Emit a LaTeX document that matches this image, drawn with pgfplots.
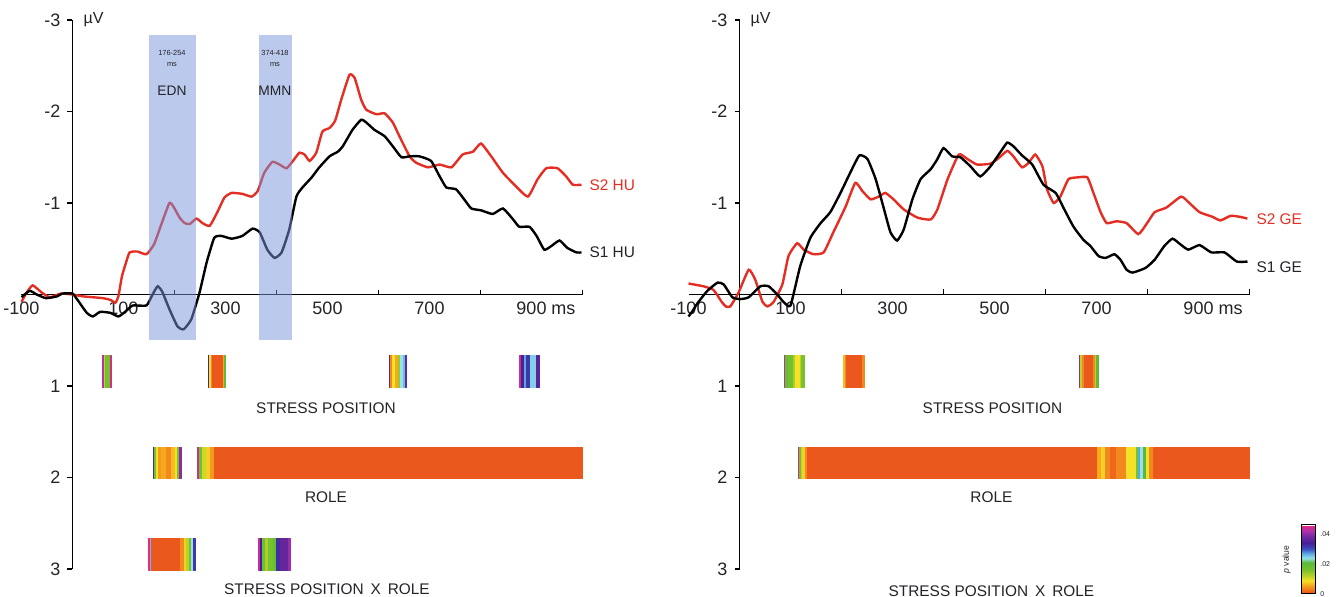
\documentclass[border=0pt]{standalone}
\usepackage{fontspec}
\setmainfont{Liberation Sans}
\usepackage{pgfplots}
\pgfplotsset{compat=1.18}
\usepgfplotslibrary{patchplots}
\usetikzlibrary{calc}
\definecolor{curvered}{RGB}{228,45,35}
\definecolor{bandblue}{RGB}{120,148,218}
\definecolor{txt}{RGB}{35,35,40}
\pgfplotsset{
  colormap={pval}{rgb255(0cm)=(232,72,28) rgb255(3cm)=(240,120,30) rgb255(6cm)=(245,170,30) rgb255(9cm)=(245,225,40) rgb255(12cm)=(190,210,40) rgb255(16cm)=(120,195,45) rgb255(21cm)=(90,185,60) rgb255(24cm)=(150,225,235) rgb255(27cm)=(90,170,225) rgb255(30cm)=(60,80,190) rgb255(34cm)=(70,30,150) rgb255(38cm)=(110,40,160) rgb255(42cm)=(170,50,170) rgb255(46cm)=(230,40,130)},
  erp/.style={
    scale only axis, width=280.5pt, height=274.5pt, anchor=south west,
    axis lines=middle, axis line style={-, line width=0.75pt, black},
    xmin=-100, xmax=1000, ymin=-3, ymax=3, y dir=reverse,
    xtick={200,400,600,800,1000}, xticklabels={,,,,},
    extra x ticks={-100,100,300,500,700,900},
    extra x tick labels={-100,100,300,500,700,900\rlap{ ms}},
    extra x tick style={tick style={draw=none}, xticklabel style={yshift=2.5pt}},
    ytick={-3,-2,-1,1,2,3}, yticklabels={-3,-2,-1,1,2,3},
    tick align=outside, major tick length=2.5pt,
    tick style={line width=0.75pt, black},
    ticklabel style={font=\fontsize{9}{10}\selectfont, text=txt},
    clip=false, colormap name=pval, point meta min=0, point meta max=0.046,
  },
  sig/.style={patch, patch type=rectangle, shader=flat, point meta=explicit},
  erpline/.style={line width=1.2pt, smooth, tension=0.3},
}
\begin{document}
\begin{tikzpicture}
\useasboundingbox (0,0) rectangle (669pt,298.5pt);
% ---------------- LEFT PANEL (HU) ----------------
\begin{axis}[erp, at={(10.75pt,14pt)}]
\addplot[curvered, erpline] coordinates {
(-100,0.08) (-90,-0.02) (-78,-0.1) (-60,-0.02) (-44,0.03) (-23,-0.01) (0,0.0) (20,0.02) (40,0.03) (60,0.04) (75,0.06) (84,0.09) (90,0.02) (97,-0.2) (105,-0.35) (112,-0.46) (127,-0.47) (145,-0.44) (160,-0.55) (175,-0.78) (190,-1.0) (198,-0.96) (210,-0.84) (220,-0.78) (230,-0.77) (243,-0.83) (255,-0.78) (269,-0.75) (284,-0.9) (298,-1.06) (312,-1.11) (333,-1.1) (351,-1.07) (363,-1.13) (376,-1.33) (392,-1.45) (406,-1.42) (420,-1.38) (435,-1.48) (445,-1.55) (455,-1.53) (465,-1.46) (478,-1.55) (490,-1.78) (504,-1.82) (515,-1.9) (527,-2.13) (543,-2.4) (553,-2.37) (566,-2.13) (576,-2.02) (596,-1.97) (612,-1.98) (628,-1.88) (641,-1.73) (661,-1.51) (674,-1.44) (697,-1.39) (720,-1.42) (743,-1.39) (765,-1.53) (785,-1.56) (801,-1.65) (821,-1.51) (844,-1.33) (870,-1.18) (893,-1.07) (912,-1.26) (929,-1.38) (951,-1.38) (968,-1.29) (981,-1.2) (998,-1.2)
};
\addplot[black, erpline] coordinates {
(-100,0.03) (-84,-0.04) (-70,0.0) (-52,0.04) (-30,0.02) (-20,-0.01) (0,-0.01) (10,0.06) (28,0.2) (40,0.24) (54,0.19) (74,0.2) (90,0.24) (103,0.19) (118,0.12) (145,0.12) (157,0.0) (167,-0.09) (176,-0.03) (190,0.16) (206,0.35) (218,0.38) (233,0.27) (249,-0.02) (263,-0.35) (278,-0.62) (292,-0.64) (312,-0.61) (333,-0.64) (353,-0.72) (367,-0.68) (382,-0.49) (396,-0.4) (410,-0.46) (425,-0.71) (439,-1.07) (451,-1.17) (469,-1.28) (484,-1.39) (504,-1.51) (520,-1.56) (530,-1.62) (549,-1.8) (566,-1.91) (576,-1.88) (592,-1.8) (612,-1.73) (628,-1.62) (645,-1.5) (661,-1.51) (680,-1.51) (703,-1.46) (720,-1.29) (733,-1.17) (752,-1.15) (768,-1.04) (782,-0.94) (801,-0.92) (824,-0.88) (844,-0.94) (864,-0.82) (876,-0.74) (896,-0.74) (910,-0.64) (925,-0.49) (939,-0.53) (955,-0.59) (970,-0.51) (988,-0.46) (998,-0.46)
};
% shaded windows
\addplot[draw=none, fill=bandblue, fill opacity=0.5] coordinates {(150.6,-2.84) (242,-2.84) (242,0.5) (150.6,0.5)} -- cycle;
\addplot[draw=none, fill=bandblue, fill opacity=0.5] coordinates {(365.7,-2.84) (430.4,-2.84) (430.4,0.5) (365.7,0.5)} -- cycle;
% significance rows
\addplot[sig] coordinates {
(59,0.67)[0.043] (62,0.67)[0.043] (62,1.01)[0.043] (59,1.01)[0.043]
(62,0.67)[0.012] (65,0.67)[0.012] (65,1.01)[0.012] (62,1.01)[0.012]
(65,0.67)[0.017] (74,0.67)[0.017] (74,1.01)[0.017] (65,1.01)[0.017]
(74,0.67)[0.045] (77,0.67)[0.045] (77,1.01)[0.045] (74,1.01)[0.045]
(266,0.67)[0.035] (269,0.67)[0.035] (269,1.01)[0.035] (266,1.01)[0.035]
(269,0.67)[0.009] (271.5,0.67)[0.009] (271.5,1.01)[0.009] (269,1.01)[0.009]
(271.5,0.67)[0.004] (275,0.67)[0.004] (275,1.01)[0.004] (271.5,1.01)[0.004]
(275,0.67)[0.001] (296,0.67)[0.001] (296,1.01)[0.001] (275,1.01)[0.001]
(296,0.67)[0.006] (298.5,0.67)[0.006] (298.5,1.01)[0.006] (296,1.01)[0.006]
(298.5,0.67)[0.02] (300.5,0.67)[0.02] (300.5,1.01)[0.02] (298.5,1.01)[0.02]
(620.6,0.67)[0.036] (623.9,0.67)[0.036] (623.9,1.01)[0.036] (620.6,1.01)[0.036]
(623.9,0.67)[0.004] (627.8,0.67)[0.004] (627.8,1.01)[0.004] (623.9,1.01)[0.004]
(627.8,0.67)[0.009] (632.4,0.67)[0.009] (632.4,1.01)[0.009] (627.8,1.01)[0.009]
(632.4,0.67)[0.006] (638.9,0.67)[0.006] (638.9,1.01)[0.006] (632.4,1.01)[0.006]
(638.9,0.67)[0.014] (643.5,0.67)[0.014] (643.5,1.01)[0.014] (638.9,1.01)[0.014]
(643.5,0.67)[0.024] (648.7,0.67)[0.024] (648.7,1.01)[0.024] (643.5,1.01)[0.024]
(648.7,0.67)[0.026] (652,0.67)[0.026] (652,1.01)[0.026] (648.7,1.01)[0.026]
(652,0.67)[0.037] (655.2,0.67)[0.037] (655.2,1.01)[0.037] (652,1.01)[0.037]
(875.5,0.67)[0.044] (879.4,0.67)[0.044] (879.4,1.01)[0.044] (875.5,1.01)[0.044]
(879.4,0.67)[0.035] (885.9,0.67)[0.035] (885.9,1.01)[0.035] (879.4,1.01)[0.035]
(885.9,0.67)[0.027] (890.5,0.67)[0.027] (890.5,1.01)[0.027] (885.9,1.01)[0.027]
(890.5,0.67)[0.032] (897,0.67)[0.032] (897,1.01)[0.032] (890.5,1.01)[0.032]
(897,0.67)[0.025] (910.1,0.67)[0.025] (910.1,1.01)[0.025] (897,1.01)[0.025]
(910.1,0.67)[0.036] (914.7,0.67)[0.036] (914.7,1.01)[0.036] (910.1,1.01)[0.036]
};
\addplot[sig] coordinates {
(158.5,1.67)[0.036] (161.1,1.67)[0.036] (161.1,2.01)[0.036] (158.5,2.01)[0.036]
(161.1,1.67)[0.017] (164.4,1.67)[0.017] (164.4,2.01)[0.017] (161.1,2.01)[0.017]
(164.4,1.67)[0.009] (168.3,1.67)[0.009] (168.3,2.01)[0.009] (164.4,2.01)[0.009]
(168.3,1.67)[0.005] (174.8,1.67)[0.005] (174.8,2.01)[0.005] (168.3,2.01)[0.005]
(174.8,1.67)[0.006] (184.6,1.67)[0.006] (184.6,2.01)[0.006] (174.8,2.01)[0.006]
(184.6,1.67)[0.004] (194.4,1.67)[0.004] (194.4,2.01)[0.004] (184.6,2.01)[0.004]
(194.4,1.67)[0.007] (201,1.67)[0.007] (201,2.01)[0.007] (194.4,2.01)[0.007]
(201,1.67)[0.009] (205.6,1.67)[0.009] (205.6,2.01)[0.009] (201,2.01)[0.009]
(205.6,1.67)[0.016] (209.5,1.67)[0.016] (209.5,2.01)[0.016] (205.6,2.01)[0.016]
(209.5,1.67)[0.04] (212.7,1.67)[0.04] (212.7,2.01)[0.04] (209.5,2.01)[0.04]
(245.4,1.67)[0.044] (248.6,1.67)[0.044] (248.6,2.01)[0.044] (245.4,2.01)[0.044]
(248.6,1.67)[0.017] (255.1,1.67)[0.017] (255.1,2.01)[0.017] (248.6,2.01)[0.017]
(255.1,1.67)[0.011] (263,1.67)[0.011] (263,2.01)[0.011] (255.1,2.01)[0.011]
(263,1.67)[0.008] (269.5,1.67)[0.008] (269.5,2.01)[0.008] (263,2.01)[0.008]
(269.5,1.67)[0.005] (277.3,1.67)[0.005] (277.3,2.01)[0.005] (269.5,2.01)[0.005]
(277.3,1.67)[0.001] (1000,1.67)[0.001] (1000,2.01)[0.001] (277.3,2.01)[0.001]
};
\addplot[sig] coordinates {
(148.7,2.67)[0.046] (152,2.67)[0.046] (152,3.01)[0.046] (148.7,3.01)[0.046]
(152,2.67)[0.026] (155.2,2.67)[0.026] (155.2,3.01)[0.026] (152,3.01)[0.026]
(155.2,2.67)[0.001] (210.8,2.67)[0.001] (210.8,3.01)[0.001] (155.2,3.01)[0.001]
(210.8,2.67)[0.004] (218.6,2.67)[0.004] (218.6,3.01)[0.004] (210.8,3.01)[0.004]
(218.6,2.67)[0.008] (223.9,2.67)[0.008] (223.9,3.01)[0.008] (218.6,3.01)[0.008]
(223.9,2.67)[0.012] (229.1,2.67)[0.012] (229.1,3.01)[0.012] (223.9,3.01)[0.012]
(229.1,2.67)[0.017] (233.7,2.67)[0.017] (233.7,3.01)[0.017] (229.1,3.01)[0.017]
(233.7,2.67)[0.024] (236.9,2.67)[0.024] (236.9,3.01)[0.024] (233.7,3.01)[0.024]
(236.9,2.67)[0.032] (240.2,2.67)[0.032] (240.2,3.01)[0.032] (236.9,3.01)[0.032]
(364.4,2.67)[0.044] (367.6,2.67)[0.044] (367.6,3.01)[0.044] (364.4,3.01)[0.044]
(367.6,2.67)[0.034] (372.2,2.67)[0.034] (372.2,3.01)[0.034] (367.6,3.01)[0.034]
(372.2,2.67)[0.018] (377.5,2.67)[0.018] (377.5,3.01)[0.018] (372.2,3.01)[0.018]
(377.5,2.67)[0.013] (384,2.67)[0.013] (384,3.01)[0.013] (377.5,3.01)[0.013]
(384,2.67)[0.016] (393.8,2.67)[0.016] (393.8,3.01)[0.016] (384,3.01)[0.016]
(393.8,2.67)[0.019] (399,2.67)[0.019] (399,3.01)[0.019] (393.8,3.01)[0.019]
(399,2.67)[0.033] (406.9,2.67)[0.033] (406.9,3.01)[0.033] (399,3.01)[0.033]
(406.9,2.67)[0.037] (424,2.67)[0.037] (424,3.01)[0.037] (406.9,3.01)[0.037]
(424,2.67)[0.041] (426.5,2.67)[0.041] (426.5,3.01)[0.041] (424,3.01)[0.041]
};
\node[anchor=west, xshift=2pt, font=\fontsize{8}{9}\selectfont, text=txt] at (axis cs:0,-3) {µV};
\node[anchor=west, font=\fontsize{7.7}{9}\selectfont, text=curvered] at (axis cs:1000,-1.2) {S2 HU};
\node[anchor=west, font=\fontsize{7.7}{9}\selectfont, text=txt] at (axis cs:1000,-0.46) {S1 HU};
\node[align=center, font=\fontsize{3.7}{5.5}\selectfont, text=txt] at (axis cs:195,-2.58) {176-254\\ms};
\node[font=\fontsize{6.9}{8}\selectfont, text=txt] at (axis cs:195,-2.23) {EDN};
\node[align=center, font=\fontsize{3.7}{5.5}\selectfont, text=txt] at (axis cs:397,-2.58) {374-418\\ms};
\node[font=\fontsize{6.9}{8}\selectfont, text=txt] at (axis cs:397,-2.23) {MMN};
\node[font=\fontsize{7.7}{9}\selectfont, text=txt] at (axis cs:497,1.24) {STRESS POSITION};
\node[font=\fontsize{7.7}{9}\selectfont, text=txt] at (axis cs:497,2.21) {ROLE};
\node[font=\fontsize{7.7}{9}\selectfont, text=txt] at (axis cs:499,3.22) {STRESS POSITION\hspace{0.45em}X\hspace{0.45em}ROLE};
\end{axis}
% ---------------- RIGHT PANEL (GE) ----------------
\begin{axis}[erp, at={(344.25pt,14pt)},
  colorbar right,
  colorbar style={
    at={($(parent axis.south east)+(17.7pt,-12.5pt)$)}, anchor=south west,
    scale only axis, width=7pt, height=34.5pt,
    scaled y ticks=false,
    ytick={0,0.02,0.04}, yticklabels={0,.02,.04},
    yticklabel style={font=\fontsize{3.5}{4}\selectfont, text=txt, anchor=west, inner sep=0.8pt, xshift=1.2pt},
    major tick length=0pt,
    axis line style={line width=0.5pt, black},
    ylabel={\textit{p} value},
    every axis y label/.style={at={(axis description cs:-0.3,0.5)}, rotate=90, anchor=south, font=\fontsize{4.3}{5}\selectfont, text=txt},
  }]
\addplot[curvered, erpline] coordinates {
(-100,-0.12) (-71,-0.09) (-51,-0.05) (-35,0.08) (-27,0.13) (-18,0.13) (-2,-0.02) (18,-0.27) (31,-0.16) (45,0.08) (55,0.13) (67,0.08) (84,-0.11) (96,-0.42) (113,-0.56) (126,-0.49) (145,-0.44) (165,-0.46) (184,-0.68) (208,-0.96) (227,-1.22) (241,-1.13) (257,-1.04) (273,-1.07) (286,-1.11) (302,-1.04) (322,-0.93) (349,-0.84) (375,-0.82) (388,-0.93) (408,-1.26) (430,-1.53) (447,-1.48) (466,-1.42) (492,-1.43) (508,-1.49) (525,-1.57) (537,-1.51) (554,-1.39) (567,-1.44) (580,-1.53) (594,-1.4) (603,-1.15) (616,-1.0) (629,-1.07) (645,-1.26) (663,-1.28) (682,-1.28) (694,-1.11) (708,-0.9) (720,-0.78) (739,-0.8) (759,-0.78) (782,-0.66) (798,-0.77) (814,-0.9) (837,-0.95) (866,-1.07) (882,-1.0) (902,-0.9) (927,-0.85) (943,-0.81) (963,-0.86) (980,-0.85) (996,-0.83)
};
\addplot[black, erpline] coordinates {
(-100,0.24) (-92,0.18) (-83,0.1) (-63,-0.04) (-43,-0.13) (-31,-0.11) (-14,0.03) (2,0.05) (18,0.03) (41,-0.09) (57,-0.09) (74,0.0) (86,0.08) (100,0.12) (119,-0.31) (139,-0.62) (159,-0.78) (178,-0.9) (198,-1.11) (217,-1.33) (235,-1.52) (251,-1.48) (267,-1.26) (282,-0.96) (296,-0.68) (309,-0.59) (322,-0.71) (339,-1.04) (355,-1.26) (375,-1.37) (388,-1.48) (400,-1.6) (417,-1.51) (433,-1.5) (453,-1.4) (472,-1.29) (492,-1.4) (512,-1.56) (525,-1.66) (537,-1.62) (554,-1.52) (574,-1.42) (596,-1.2) (620,-1.11) (635,-0.95) (655,-0.74) (674,-0.6) (688,-0.53) (704,-0.42) (718,-0.4) (735,-0.44) (747,-0.38) (759,-0.27) (771,-0.24) (796,-0.29) (814,-0.38) (833,-0.53) (849,-0.61) (864,-0.55) (880,-0.49) (902,-0.54) (925,-0.46) (951,-0.46) (975,-0.36) (996,-0.36)
};
\addplot[sig] coordinates {
(87.9,0.67)[0.044] (90.5,0.67)[0.044] (90.5,1.01)[0.044] (87.9,1.01)[0.044]
(90.5,0.67)[0.019] (95.8,0.67)[0.019] (95.8,1.01)[0.019] (90.5,1.01)[0.019]
(95.8,0.67)[0.017] (105.6,0.67)[0.017] (105.6,1.01)[0.017] (95.8,1.01)[0.017]
(105.6,0.67)[0.013] (110.1,0.67)[0.013] (110.1,1.01)[0.013] (105.6,1.01)[0.013]
(110.1,0.67)[0.009] (118.6,0.67)[0.009] (118.6,1.01)[0.009] (110.1,1.01)[0.009]
(118.6,0.67)[0.012] (121.9,0.67)[0.012] (121.9,1.01)[0.012] (118.6,1.01)[0.012]
(121.9,0.67)[0.016] (126.5,0.67)[0.016] (126.5,1.01)[0.016] (121.9,1.01)[0.016]
(204.2,0.67)[0.007] (206.9,0.67)[0.007] (206.9,1.01)[0.007] (204.2,1.01)[0.007]
(206.9,0.67)[0.004] (208.8,0.67)[0.004] (208.8,1.01)[0.004] (206.9,1.01)[0.004]
(208.8,0.67)[0.001] (241.5,0.67)[0.001] (241.5,1.01)[0.001] (208.8,1.01)[0.001]
(241.5,0.67)[0.004] (244.1,0.67)[0.004] (244.1,1.01)[0.004] (241.5,1.01)[0.004]
(665.7,0.67)[0.04] (669,0.67)[0.04] (669,1.01)[0.04] (665.7,1.01)[0.04]
(669,0.67)[0.012] (672.9,0.67)[0.012] (672.9,1.01)[0.012] (669,1.01)[0.012]
(672.9,0.67)[0.004] (676.1,0.67)[0.004] (676.1,1.01)[0.004] (672.9,1.01)[0.004]
(676.1,0.67)[0.001] (693.8,0.67)[0.001] (693.8,1.01)[0.001] (676.1,1.01)[0.001]
(693.8,0.67)[0.004] (697,0.67)[0.004] (697,1.01)[0.004] (693.8,1.01)[0.004]
(697,0.67)[0.012] (700.3,0.67)[0.012] (700.3,1.01)[0.012] (697,1.01)[0.012]
(700.3,0.67)[0.02] (703.6,0.67)[0.02] (703.6,1.01)[0.02] (700.3,1.01)[0.02]
};
\addplot[sig] coordinates {
(115.3,1.67)[0.045] (117.3,1.67)[0.045] (117.3,2.01)[0.045] (115.3,2.01)[0.045]
(117.3,1.67)[0.017] (120.6,1.67)[0.017] (120.6,2.01)[0.017] (117.3,2.01)[0.017]
(120.6,1.67)[0.012] (123.9,1.67)[0.012] (123.9,2.01)[0.012] (120.6,2.01)[0.012]
(123.9,1.67)[0.008] (128.4,1.67)[0.008] (128.4,2.01)[0.008] (123.9,2.01)[0.008]
(128.4,1.67)[0.004] (133.7,1.67)[0.004] (133.7,2.01)[0.004] (128.4,2.01)[0.004]
(133.7,1.67)[0.001] (702.3,1.67)[0.001] (702.3,2.01)[0.001] (133.7,2.01)[0.001]
(702.3,1.67)[0.006] (710.1,1.67)[0.006] (710.1,2.01)[0.006] (702.3,2.01)[0.006]
(710.1,1.67)[0.008] (716.7,1.67)[0.008] (716.7,2.01)[0.008] (710.1,2.01)[0.008]
(716.7,1.67)[0.004] (726.5,1.67)[0.004] (726.5,2.01)[0.004] (716.7,2.01)[0.004]
(726.5,1.67)[0.002] (739.5,1.67)[0.002] (739.5,2.01)[0.002] (726.5,2.01)[0.002]
(739.5,1.67)[0.004] (759.2,1.67)[0.004] (759.2,2.01)[0.004] (739.5,2.01)[0.004]
(759.2,1.67)[0.009] (777.5,1.67)[0.009] (777.5,2.01)[0.009] (759.2,2.01)[0.009]
(777.5,1.67)[0.016] (782,1.67)[0.016] (782,2.01)[0.016] (777.5,2.01)[0.016]
(782,1.67)[0.027] (785.3,1.67)[0.027] (785.3,2.01)[0.027] (782,2.01)[0.027]
(785.3,1.67)[0.024] (791.8,1.67)[0.024] (791.8,2.01)[0.024] (785.3,2.01)[0.024]
(791.8,1.67)[0.021] (797.1,1.67)[0.021] (797.1,2.01)[0.021] (791.8,2.01)[0.021]
(797.1,1.67)[0.009] (803.6,1.67)[0.009] (803.6,2.01)[0.009] (797.1,2.01)[0.009]
(803.6,1.67)[0.004] (811.4,1.67)[0.004] (811.4,2.01)[0.004] (803.6,2.01)[0.004]
(811.4,1.67)[0.001] (1000,1.67)[0.001] (1000,2.01)[0.001] (811.4,2.01)[0.001]
};
\node[anchor=west, xshift=2pt, font=\fontsize{8}{9}\selectfont, text=txt] at (axis cs:0,-3) {µV};
\node[anchor=west, font=\fontsize{7.7}{9}\selectfont, text=curvered] at (axis cs:1000,-0.82) {S2 GE};
\node[anchor=west, font=\fontsize{7.7}{9}\selectfont, text=txt] at (axis cs:1000,-0.3) {S1 GE};
\node[font=\fontsize{7.7}{9}\selectfont, text=txt] at (axis cs:496,1.24) {STRESS POSITION};
\node[font=\fontsize{7.7}{9}\selectfont, text=txt] at (axis cs:494,2.21) {ROLE};
\node[font=\fontsize{7.7}{9}\selectfont, text=txt] at (axis cs:494,3.24) {STRESS POSITION\hspace{0.45em}X\hspace{0.45em}ROLE};
\end{axis}
\end{tikzpicture}
\end{document}
